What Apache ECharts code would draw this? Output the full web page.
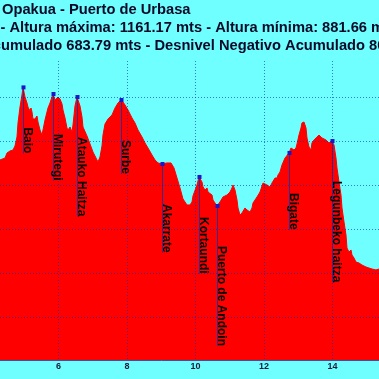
<!DOCTYPE html>
<html><head><meta charset="utf-8">
<script src="https://cdn.jsdelivr.net/npm/echarts@6/dist/echarts.min.js"></script>
<style>
html,body{margin:0;padding:0;width:379px;height:379px;overflow:hidden;background:#6FFFFF;}
#c{position:absolute;left:-197px;top:0;width:720px;height:379px;}
</style>
</head><body><div id="c"></div>
<script>
// Profile: distance (km) and altitude (m)
const distanceKm = [4.292,4.438,4.496,4.584,4.672,4.730,4.788,4.818,4.876,4.934,4.964,5.022,5.080,5.109,5.168,5.197,5.226,5.255,5.314,5.372,5.401,5.460,5.518,5.547,5.606,5.664,5.693,5.752,5.810,5.839,5.898,5.956,5.985,6.044,6.102,6.131,6.190,6.248,6.277,6.336,6.394,6.423,6.482,6.540,6.569,6.628,6.686,6.715,6.832,6.920,7.007,7.124,7.153,7.212,7.270,7.299,7.358,7.445,7.562,7.650,7.737,7.825,7.883,7.942,8.029,8.146,8.234,8.321,8.438,8.526,8.613,8.730,8.818,8.905,9.022,9.168,9.285,9.372,9.460,9.547,9.635,9.752,9.839,9.898,9.927,10.044,10.102,10.190,10.219,10.277,10.336,10.365,10.423,10.482,10.511,10.628,10.715,10.803,10.920,10.949,11.007,11.066,11.095,11.153,11.212,11.241,11.299,11.358,11.387,11.445,11.504,11.533,11.591,11.650,11.679,11.796,11.883,11.971,12.029,12.088,12.175,12.234,12.263,12.321,12.380,12.409,12.467,12.526,12.613,12.730,12.788,12.818,12.876,12.934,12.964,13.022,13.080,13.109,13.168,13.226,13.255,13.314,13.372,13.401,13.460,13.547,13.606,13.693,13.810,13.898,13.956,13.985,14.044,14.102,14.131,14.190,14.248,14.277,14.336,14.394,14.423,14.482,14.540,14.569,14.628,14.686,14.774,14.861,14.978,15.066,15.153,15.270,15.358];
const altitudeM = [1078.8,1081.0,1086.7,1089.0,1090.1,1094.7,1104.9,1120.8,1138.9,1152.6,1161.2,1150.3,1143.5,1138.9,1134.4,1137.8,1133.3,1125.3,1125.3,1128.7,1121.9,1112.8,1107.1,1112.8,1124.2,1133.3,1137.8,1143.5,1150.3,1153.7,1146.9,1145.8,1150.3,1148.0,1142.4,1135.5,1126.5,1115.1,1112.8,1116.2,1110.6,1118.5,1140.1,1150.3,1146.9,1140.1,1127.6,1116.2,1106.0,1097.0,1087.8,1078.8,1076.5,1082.2,1094.7,1107.1,1119.6,1125.3,1129.9,1137.8,1143.5,1146.9,1144.6,1141.2,1135.5,1126.5,1120.8,1112.8,1104.9,1098.1,1092.4,1084.4,1078.8,1075.4,1074.2,1075.4,1075.4,1069.7,1058.3,1047.0,1034.5,1027.7,1027.7,1031.1,1037.9,1050.4,1059.5,1053.8,1048.1,1044.7,1047.0,1042.4,1042.4,1039.0,1033.3,1026.5,1031.1,1036.8,1039.0,1036.8,1042.4,1047.0,1050.4,1044.7,1033.3,1024.3,1016.3,1018.6,1019.7,1024.3,1022.0,1022.0,1019.7,1024.3,1029.9,1036.8,1042.4,1052.6,1053.8,1050.4,1048.1,1052.6,1053.8,1058.3,1058.3,1061.7,1065.1,1073.1,1081.0,1086.7,1092.4,1093.5,1090.1,1092.4,1097.0,1107.1,1115.1,1120.8,1121.9,1115.1,1103.8,1093.5,1090.1,1098.1,1101.5,1104.9,1107.1,1103.8,1101.5,1098.1,1099.2,1100.3,1095.8,1081.0,1069.7,1053.8,1039.0,1024.3,1008.4,993.6,978.8,974.3,976.6,970.9,967.5,962.9,961.8,959.5,957.3,956.1,955.0,953.9,955.0];

// Waypoints
const wpNames = ["Baio","Mirutegi","Atauko Haitza","Surbe","Akarrate","Kortaundi","Puerto de Andoin","Bigate","Legunbeko haitza"];
const wpKm = [4.964,5.839,6.540,7.825,9.022,10.102,10.628,12.730,13.985];
const wpAlt = [1161.2,1153.7,1150.3,1146.9,1074.2,1059.5,1026.5,1086.7,1100.3];

// Axis settings
const altMin = 851.66, altMax = 1191.17;
const kmMin = 0, kmMax = 18, kmStep = 2;

// Title lines
const titleLine1 = "Opakua - Puerto de Urbasa";
const titleLine2 = "- Altura máxima: 1161.17 mts - Altura mínima: 881.66 mts";
const titleLine3 = "Desnivel Positivo Acumulado 683.79 mts - Desnivel Negativo Acumulado 806.30 mts";
const titleLine3Hidden = "Desnivel Positivo Ac";

const OFF = 197; // container offset
const FONT = '"Liberation Sans", Arial, sans-serif';
const mctx = document.createElement('canvas').getContext('2d');
function measure(t, f){ mctx.font = f; return mctx.measureText(t).width; }
const titleFont = 'bold 14.7px ' + FONT;
const lblFont = 'bold 12px ' + FONT;
const gridCol = 'rgba(0,40,200,0.6)';

const chart = echarts.init(document.getElementById('c'));
chart.setOption({
  backgroundColor: '#6FFFFF',
  animation: false,
  grid: {left: 50, top: 61, width: 616.5, height: 299, containLabel: false, outerBoundsMode: 'none'},
  xAxis: {
    type: 'value', min: kmMin, max: kmMax, interval: kmStep, z: 10,
    axisLine: {show: true, onZero: false, lineStyle: {color: 'rgba(40,40,150,0.8)', width: 1}},
    axisTick: {show: false},
    axisLabel: {color: '#1a1a3a', fontSize: 9, fontWeight: 'bold', fontFamily: FONT, margin: 2},
    splitLine: {show: true, lineStyle: {color: gridCol, type: [1,2], width: 1}}
  },
  yAxis: {
    type: 'value', min: altMin, max: altMax, z: 10,
    axisLine: {show: false}, axisTick: {show: false},
    axisLabel: {show: false},
    splitLine: {show: true, showMaxLine: false, showMinLine: false, lineStyle: {color: gridCol, type: [1,2], width: 1}}
  },
  graphic: [
    {type: 'text', x: OFF + 2, y: 10, style: {text: titleLine1, font: titleFont, fill: '#0a0a28', verticalAlign: 'middle', align: 'left'}},
    {type: 'text', x: OFF + 0.5, y: 28, style: {text: titleLine2, font: titleFont, fill: '#0a0a28', verticalAlign: 'middle', align: 'left'}},
    {type: 'text', x: OFF + 1 - measure(titleLine3Hidden, titleFont), y: 46, style: {text: titleLine3, font: titleFont, fill: '#0a0a28', verticalAlign: 'middle', align: 'left'}}
  ],
  series: [
    {
      type: 'line', data: distanceKm.map((d, i) => [d, altitudeM[i]]),
      showSymbol: false, symbol: 'none', smooth: false,
      lineStyle: {color: '#FF0000', width: 1},
      areaStyle: {color: '#FF0000', opacity: 1},
      z: 2
    },
    {
      type: 'custom', z: 5,
      data: wpKm.map((d, i) => [d, wpAlt[i]]),
      renderItem: function (params, api) {
        const p = api.coord([api.value(0), api.value(1)]);
        const name = wpNames[params.dataIndex];
        const w = measure(name, lblFont);
        const x = Math.round(p[0]) + 0.5;
        return {type: 'group', children: [
          {type: 'line', shape: {x1: x, y1: p[1], x2: x, y2: p[1] + 40 + w}, style: {stroke: '#3a2a8a', lineWidth: 1}},
          {type: 'rect', shape: {x: x - 2, y: p[1] - 2, width: 4, height: 4}, style: {fill: '#1818c8'}},
          {type: 'text', x: p[0] + 4, y: p[1] + 40, rotation: -Math.PI / 2,
            style: {text: name, font: lblFont, fill: '#000000', align: 'left', verticalAlign: 'middle'}}
        ]};
      }
    }
  ]
});
</script>
</body></html>
